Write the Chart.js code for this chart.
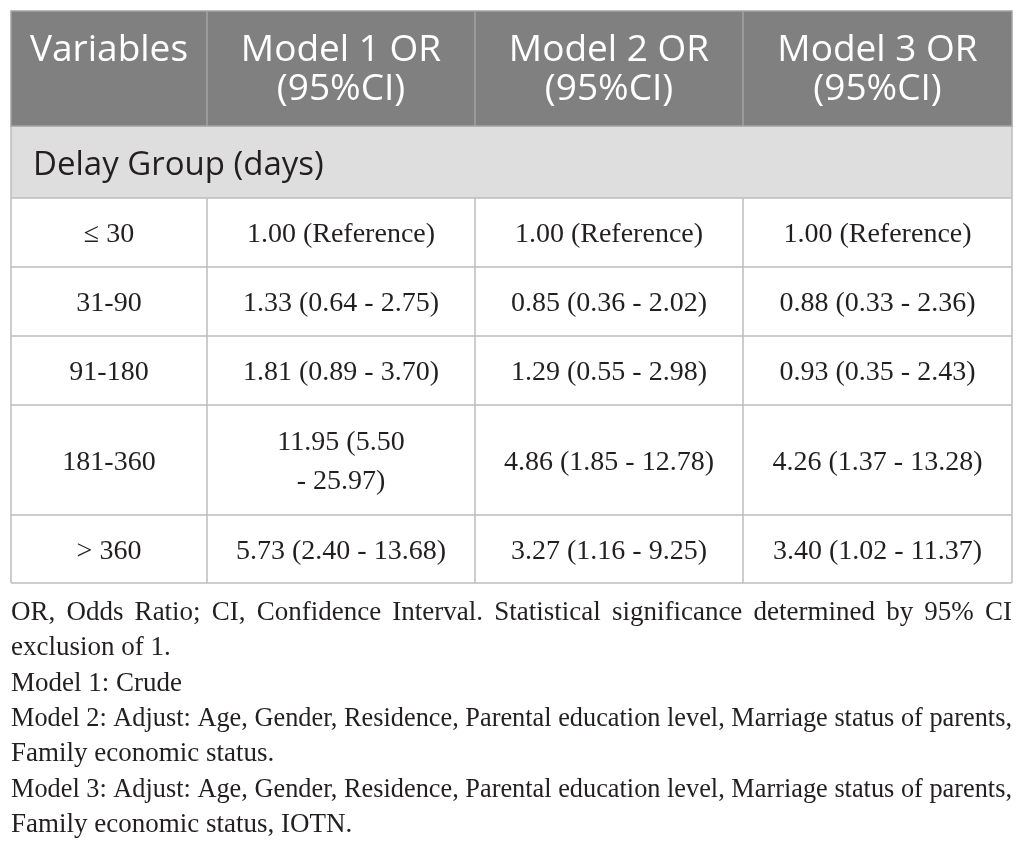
<!DOCTYPE html>
<html>
<head>
<meta charset="utf-8">
<title>Delay Group OR table</title>
<script src="https://cdn.jsdelivr.net/npm/chart.js@4.4.1/dist/chart.umd.min.js"></script>
<style>
  html, body { margin: 0; padding: 0; background: #ffffff; }
  #chartContainer { width: 1026px; height: 849px; }
</style>
</head>
<body>
<div id="chartContainer"><canvas id="myChart" width="1026" height="849"></canvas></div>
<script>
// datos de la tabla
const headers = ["Variables", "Model 1 OR\n(95%CI)", "Model 2 OR\n(95%CI)", "Model 3 OR\n(95%CI)"];
const sectionTitle = "Delay Group (days)";
const delayGroups = ["\u2264 30", "31-90", "91-180", "181-360", "> 360"];
const model1 = ["1.00 (Reference)", "1.33 (0.64 - 2.75)", "1.81 (0.89 - 3.70)", "11.95 (5.50\n- 25.97)", "5.73 (2.40 - 13.68)"];
const model2 = ["1.00 (Reference)", "0.85 (0.36 - 2.02)", "1.29 (0.55 - 2.98)", "4.86 (1.85 - 12.78)", "3.27 (1.16 - 9.25)"];
const model3 = ["1.00 (Reference)", "0.88 (0.33 - 2.36)", "0.93 (0.35 - 2.43)", "4.26 (1.37 - 13.28)", "3.40 (1.02 - 11.37)"];
const notes = [
  "OR, Odds Ratio; CI, Confidence Interval. Statistical significance determined by 95% CI",
  "exclusion of 1.",
  "Model 1: Crude",
  "Model 2: Adjust: Age, Gender, Residence, Parental education level, Marriage status of parents,",
  "Family economic status.",
  "Model 3: Adjust: Age, Gender, Residence, Parental education level, Marriage status of parents,",
  "Family economic status, IOTN."
];
const justifiedNotes = [0, 3, 5];

// estilos y medidas
const layout = {
  left: 11,
  top: 11,
  colWidths: [196, 268, 268, 269],
  headerH: 115,
  sectionH: 72,
  rowHeights: [69, 69, 69, 110, 68],
  headerBaseline: 50,
  headerLineGap: 39,
  sectionBaselineOffset: 49,
  sectionIndent: 22,
  bodyLineGap: 39,
  bodyBaselineShift: 9.5,
  notesFirstBaseline: 620,
  notesLineGap: 35.3
};
const styles = {
  headerBg: "#808080",
  headerSep: "#a3a3a3",
  sectionBg: "#dedede",
  border: "#bdbdbd",
  headerFont: "37px 'Open Sans'",
  sectionFont: "33px 'Open Sans'",
  bodyFont: "28px 'Liberation Serif'",
  notesFont: "27px 'Liberation Serif'",
  headerColor: "#ffffff",
  textColor: "#231f20"
};

function drawJustified(ctx, text, x, y, width) {
  const natural = ctx.measureText(text).width;
  if (natural >= width) {
    ctx.save();
    ctx.translate(x, y);
    ctx.scale(width / natural, 1);
    ctx.fillText(text, 0, 0);
    ctx.restore();
    return;
  }
  const words = text.split(" ");
  const wordsWidth = words.reduce((s, w) => s + ctx.measureText(w).width, 0);
  const gap = (width - wordsWidth) / (words.length - 1);
  let cx = x;
  words.forEach((w) => {
    ctx.fillText(w, cx, y);
    cx += ctx.measureText(w).width + gap;
  });
}

const tablePlugin = {
  id: "tablePlugin",
  afterDraw(chart) {
    const ctx = chart.ctx;
    const L = layout;
    const colX = [L.left];
    L.colWidths.forEach((w) => colX.push(colX[colX.length - 1] + w));
    const right = colX[colX.length - 1];
    const tableW = right - L.left;

    ctx.save();
    ctx.clearRect(0, 0, chart.width, chart.height);
    ctx.fillStyle = "#ffffff";
    ctx.fillRect(0, 0, chart.width, chart.height);

    // cabecera
    let y = L.top;
    ctx.fillStyle = styles.headerBg;
    ctx.fillRect(L.left, y, tableW, L.headerH);
    ctx.strokeStyle = styles.headerSep;
    ctx.lineWidth = 1.5;
    for (let i = 1; i < colX.length - 1; i++) {
      ctx.beginPath();
      ctx.moveTo(colX[i], y);
      ctx.lineTo(colX[i], y + L.headerH);
      ctx.stroke();
    }
    ctx.font = styles.headerFont;
    ctx.fillStyle = styles.headerColor;
    ctx.textAlign = "center";
    ctx.textBaseline = "alphabetic";
    headers.forEach((h, i) => {
      const cx = (colX[i] + colX[i + 1]) / 2;
      h.split("\n").forEach((line, k) => {
        ctx.fillText(line, cx, y + L.headerBaseline + k * L.headerLineGap);
      });
    });
    y += L.headerH;

    // fila de sección
    ctx.fillStyle = styles.sectionBg;
    ctx.fillRect(L.left, y, tableW, L.sectionH);
    ctx.font = styles.sectionFont;
    ctx.fillStyle = styles.textColor;
    ctx.textAlign = "left";
    ctx.fillText(sectionTitle, L.left + L.sectionIndent, y + L.sectionBaselineOffset);
    ctx.strokeStyle = styles.border;
    ctx.beginPath();
    ctx.moveTo(L.left, y + L.sectionH);
    ctx.lineTo(right, y + L.sectionH);
    ctx.stroke();
    const sectionTop = y;
    y += L.sectionH;

    // filas de datos
    const bodyTop = y;
    ctx.font = styles.bodyFont;
    ctx.textAlign = "center";
    delayGroups.forEach((g, r) => {
      const h = L.rowHeights[r];
      const cells = [g, model1[r], model2[r], model3[r]];
      cells.forEach((txt, c) => {
        const cx = (colX[c] + colX[c + 1]) / 2;
        const lines = txt.split("\n");
        const first = y + h / 2 + L.bodyBaselineShift - ((lines.length - 1) * L.bodyLineGap) / 2;
        lines.forEach((line, k) => ctx.fillText(line, cx, first + k * L.bodyLineGap));
      });
      y += h;
      ctx.beginPath();
      ctx.moveTo(L.left, y);
      ctx.lineTo(right, y);
      ctx.stroke();
    });
    const bottom = y;

    // líneas verticales
    for (let i = 1; i < colX.length - 1; i++) {
      ctx.beginPath();
      ctx.moveTo(colX[i], bodyTop);
      ctx.lineTo(colX[i], bottom);
      ctx.stroke();
    }
    ctx.beginPath();
    ctx.moveTo(L.left, sectionTop);
    ctx.lineTo(L.left, bottom);
    ctx.moveTo(right, sectionTop);
    ctx.lineTo(right, bottom);
    ctx.stroke();
    ctx.strokeStyle = styles.headerSep;
    ctx.strokeRect(L.left, L.top, tableW, L.headerH);

    // notas
    ctx.font = styles.notesFont;
    ctx.fillStyle = styles.textColor;
    ctx.textAlign = "left";
    notes.forEach((line, i) => {
      const by = L.notesFirstBaseline + i * L.notesLineGap;
      if (justifiedNotes.includes(i)) {
        drawJustified(ctx, line, L.left, by, tableW);
      } else {
        ctx.fillText(line, L.left, by);
      }
    });
    ctx.restore();
  }
};

document.addEventListener("DOMContentLoaded", function () {
  try {
    const ctx = document.getElementById("myChart").getContext("2d");
    window.myChart = new Chart(ctx, {
      type: "bar",
      data: {
        labels: delayGroups,
        datasets: []
      },
      options: {
        responsive: false,
        animation: false,
        devicePixelRatio: 1,
        plugins: {
          legend: { display: false },
          tooltip: { enabled: false }
        },
        scales: {
          x: { display: false },
          y: { display: false }
        }
      },
      plugins: [tablePlugin]
    });
  } catch (error) {
    console.error("Error creando la tabla:", error);
  }
});
</script>
</body>
</html>
